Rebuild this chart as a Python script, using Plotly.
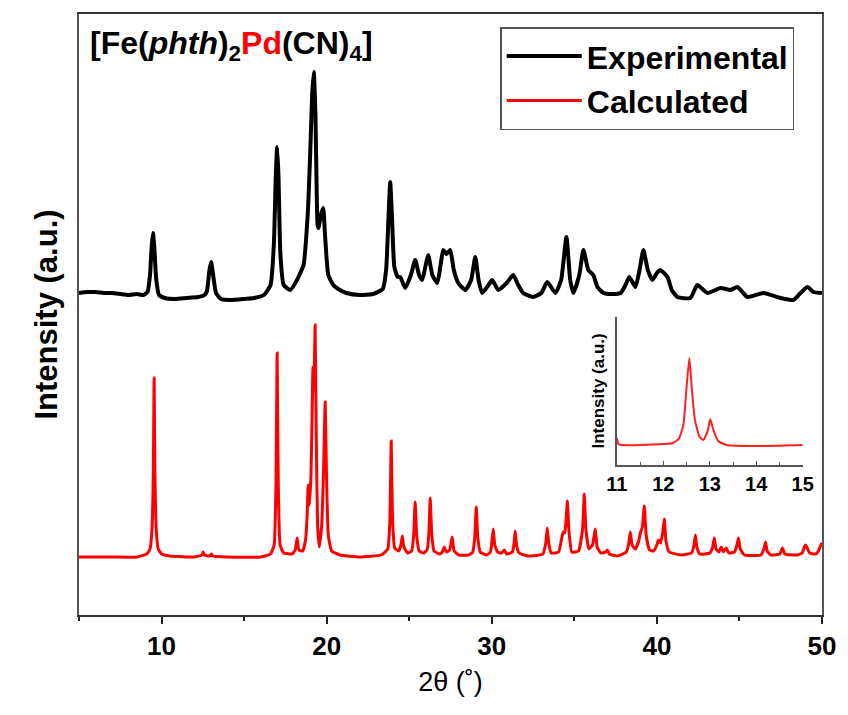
import plotly.graph_objects as go

# ---------------- data ----------------
exp_2theta = [5.0, 5.5, 6.0, 6.5, 7.0, 7.5, 8.0, 8.5, 8.9, 9.15, 9.3, 9.4, 9.48, 9.56, 9.68, 9.85, 10.2, 10.8,
              11.5, 12.2, 12.6, 12.75, 12.9, 13.0, 13.1, 13.3, 13.6, 14.2, 15.0, 15.6, 16.2, 16.6, 16.8, 16.92,
              17.0, 17.08, 17.2, 17.4, 17.8, 18.2, 18.4, 18.6, 18.85, 19.0, 19.12, 19.22, 19.32, 19.45, 19.5,
              19.65, 19.79, 19.9, 20.1, 20.4, 20.7, 21.2, 22.0, 22.8, 23.4, 23.6, 23.75, 23.85, 23.95, 24.1,
              24.3, 24.45, 24.76, 25.1, 25.36, 25.6, 25.79, 26.0, 26.15, 26.4, 26.7, 26.9, 27.06, 27.25, 27.48,
              27.7, 27.97, 28.4, 28.75, 29.0, 29.2, 29.42, 29.8, 30.03, 30.4, 30.9, 31.3, 31.6, 31.9, 32.5,
              33.0, 33.36, 33.85, 34.2, 34.52, 34.75, 34.94, 35.3, 35.55, 35.85, 36.15, 36.4, 36.76, 37.3,
              37.8, 38.1, 38.33, 38.7, 38.95, 39.18, 39.45, 39.73, 40.0, 40.2, 40.64, 40.9, 41.24, 42.03,
              42.45, 43.06, 43.85, 44.45, 44.88, 45.48, 46.45, 47.48, 48.27, 48.7, 49.12, 49.48, 50.0]
exp_intensity = [322, 323, 323, 322, 322, 321, 320, 321, 320, 323, 340, 368, 382, 368, 335, 320, 317, 316,
                 317, 318, 320, 324, 345, 353, 343, 322, 316, 315, 316, 317, 320, 330, 370, 440,
                 468, 440, 360, 330, 325, 335, 342, 350, 400, 460, 520, 543, 500, 390, 387,
                 400, 407, 380, 340, 330, 326, 322, 320, 321, 326, 345, 400, 433, 400, 348,
                 338, 338, 327, 340, 355, 340, 335, 350, 360, 340, 332, 350, 365, 361, 365,
                 345, 332, 325, 335, 358, 335, 322, 330, 335, 325, 332, 340, 330, 322, 318,
                 322, 333, 322, 335, 378, 335, 322, 340, 365, 345, 340, 328, 322, 321,
                 322, 330, 338, 328, 345, 365, 345, 335, 342, 345, 338, 325, 318, 317,
                 330, 322, 327, 325, 328, 318, 322, 317, 315, 322, 328, 323, 322]

calc_2theta = [5.0, 7.0, 8.5, 9.1, 9.3, 9.42, 9.5, 9.55, 9.6, 9.68, 9.8, 10.0, 10.5, 12.0, 12.45, 12.52, 12.6,
               12.95, 13.02, 13.1, 14.0, 16.0, 16.6, 16.82, 16.93, 17.0, 17.07, 17.18, 17.4, 17.9, 18.1, 18.21,
               18.32, 18.55, 18.72, 18.82, 18.88, 18.96, 19.05, 19.12, 19.17, 19.23, 19.3, 19.37, 19.45, 19.55,
               19.7, 19.82, 19.91, 19.99, 20.1, 20.3, 20.8, 22.0, 23.3, 23.7, 23.83, 23.91, 23.99, 24.12, 24.35,
               24.5, 24.58, 24.68, 24.9, 25.15, 25.27, 25.36, 25.45, 25.6, 25.9, 26.1, 26.19, 26.27, 26.36, 26.5,
               26.85, 27.0, 27.12, 27.25, 27.45, 27.6, 27.72, 28.0, 28.6, 28.85, 28.97, 29.06, 29.15, 29.3, 29.7,
               29.92, 30.0, 30.09, 30.18, 30.35, 30.6, 30.76, 30.9, 31.25, 31.35, 31.42, 31.5, 31.65, 32.2, 33.1,
               33.28, 33.36, 33.45, 33.6, 34.05, 34.25, 34.33, 34.42, 34.5, 34.58, 34.67, 34.85, 35.25, 35.5,
               35.6, 35.7, 35.88, 36.1, 36.27, 36.38, 36.6, 36.9, 37.0, 37.12, 37.6, 38.15, 38.3, 38.39, 38.5,
               38.7, 38.9, 39.0, 39.12, 39.24, 39.35, 39.55, 39.8, 40.0, 40.09, 40.22, 40.35, 40.45, 40.55,
               40.75, 41.5, 42.1, 42.25, 42.33, 42.42, 42.6, 43.2, 43.38, 43.48, 43.58, 43.75, 43.9, 44.02, 44.2,
               44.35, 44.7, 44.85, 44.94, 45.05, 45.3, 46.3, 46.48, 46.58, 46.68, 46.9, 47.45, 47.6, 47.75, 48.5,
               48.8, 48.93, 49.0, 49.08, 49.25, 49.6, 49.75, 49.88, 50.0]
calc_intensity = [58, 58, 58, 61, 66, 85, 140, 237, 140, 85, 66, 61, 59, 58, 60, 63, 60,
                  59, 61, 59, 58, 58, 61, 70, 130, 262, 130, 70, 62, 61, 65, 77,
                  65, 64, 75, 100, 130, 110, 140, 200, 248, 225, 290, 180, 90, 68,
                  90, 150, 213, 140, 80, 64, 60, 58, 60, 66, 95, 174, 95, 67, 64,
                  70, 79, 68, 62, 64, 80, 113, 80, 64, 62, 66, 82, 117, 82, 64,
                  61, 63, 68, 63, 65, 78, 64, 60, 60, 63, 78, 108, 78, 63, 60,
                  63, 72, 86, 70, 63, 62, 65, 61, 63, 72, 84, 70, 62, 59, 61,
                  73, 87, 72, 62, 63, 78, 83, 82, 95, 114, 85, 63, 64, 86,
                  121, 86, 66, 70, 86, 68, 62, 63, 65, 61, 59, 63, 72, 83, 70,
                  66, 74, 82, 88, 109, 80, 65, 64, 70, 75, 72, 82, 96, 74,
                  63, 60, 62, 70, 80, 68, 61, 62, 68, 77, 66, 63, 68, 63, 67,
                  62, 63, 70, 77, 66, 60, 60, 66, 73, 64, 60, 61, 67, 61, 60,
                  62, 68, 70, 68, 62, 61, 63, 68, 72]

inset_2theta = [11.0, 11.03, 11.1, 11.5, 12.0, 12.2, 12.33, 12.43, 12.50, 12.56, 12.61, 12.68, 12.78, 12.86,
                12.96, 13.01, 13.07, 13.18, 13.36, 14.0, 15.0]
inset_intensity = [27, 21, 20, 20, 21, 22, 26, 40, 78, 107, 78, 45, 28, 25, 35, 46, 36, 24, 20, 19, 20]

main_ticks = [10, 20, 30, 40, 50]
inset_ticks = [11, 12, 13, 14, 15]
series_names = ["Experimental", "Calculated"]

FONT = "Arial, Liberation Sans, sans-serif"

fig = go.Figure()
fig.add_trace(go.Scatter(x=exp_2theta, y=exp_intensity, mode="lines", name=f"<b>{series_names[0]}</b>",
                         line=dict(color="black", width=4, shape="spline", smoothing=0.5)))
fig.add_trace(go.Scatter(x=calc_2theta, y=calc_intensity, mode="lines", name=f"<b>{series_names[1]}</b>",
                         line=dict(color="#ff0000", width=3, shape="spline", smoothing=0.4)))
fig.add_trace(go.Scatter(x=inset_2theta, y=inset_intensity, mode="lines", showlegend=False,
                         line=dict(color="#ff2020", width=2, shape="spline", smoothing=0.5),
                         xaxis="x2", yaxis="y2"))

fig.update_layout(
    width=848, height=715,
    margin=dict(l=79, r=26, t=14, b=100),
    paper_bgcolor="white", plot_bgcolor="white",
    font=dict(family=FONT, color="black"),
    xaxis=dict(range=[5, 50], tickvals=main_ticks, ticktext=[f"<b>{t}</b>" for t in main_ticks],
               ticks="outside", ticklen=7, tickwidth=2, tickcolor="#222",
               minor=dict(tickvals=[5, 15, 25, 35, 45], ticks="outside", ticklen=4, tickwidth=2, tickcolor="#222"),
               showline=True, linecolor="#333", linewidth=2, mirror=True, showgrid=False, zeroline=False,
               tickfont=dict(size=26, family=FONT),
               title=dict(text="2θ (˚)", font=dict(size=27, family=FONT), standoff=12)),
    yaxis=dict(range=[0, 601], showticklabels=False, ticks="", showline=True, linecolor="#555",
               linewidth=2, mirror=True, showgrid=False, zeroline=False,
               title=dict(text="<b>Intensity (a.u.)</b>", font=dict(size=31, family=FONT), standoff=10)),
    xaxis2=dict(domain=[0.724, 0.974], anchor="y2", range=[11, 15], tickvals=inset_ticks,
                ticktext=[f"<b>{t}</b>" for t in inset_ticks],
                ticks="inside", ticklen=4, tickwidth=1, tickcolor="#555",
                minor=dict(tickvals=[11.5, 12.5, 13.5, 14.5], ticks="inside", ticklen=3, tickwidth=1, tickcolor="#555"),
                showline=True, linecolor="#555", linewidth=1.5, showgrid=False, zeroline=False,
                tickfont=dict(size=20, family=FONT)),
    yaxis2=dict(domain=[0.2496, 0.496], anchor="x2", range=[0, 148], showticklabels=False, ticks="",
                showline=True, linecolor="#555", linewidth=1.5, showgrid=False, zeroline=False,
                title=dict(text="<b>Intensity (a.u.)</b>", font=dict(size=17, family=FONT), standoff=6)),
    legend=dict(x=0.567, y=0.978, xanchor="left", yanchor="top", bgcolor="white",
                bordercolor="#555", borderwidth=1.5, font=dict(size=32, family=FONT),
                itemwidth=75, tracegroupgap=0),
    showlegend=True,
)

fig.add_annotation(xref="paper", yref="paper", x=0.012, y=0.985, xanchor="left", yanchor="top",
                   showarrow=False, align="left",
                   text="<b>[Fe(<i>phth</i>)<sub>2</sub><span style='color:#ff0000'>Pd</span>(CN)<sub>4</sub>]</b>",
                   font=dict(size=32, family=FONT, color="black"))

fig.write_html("out.html")
